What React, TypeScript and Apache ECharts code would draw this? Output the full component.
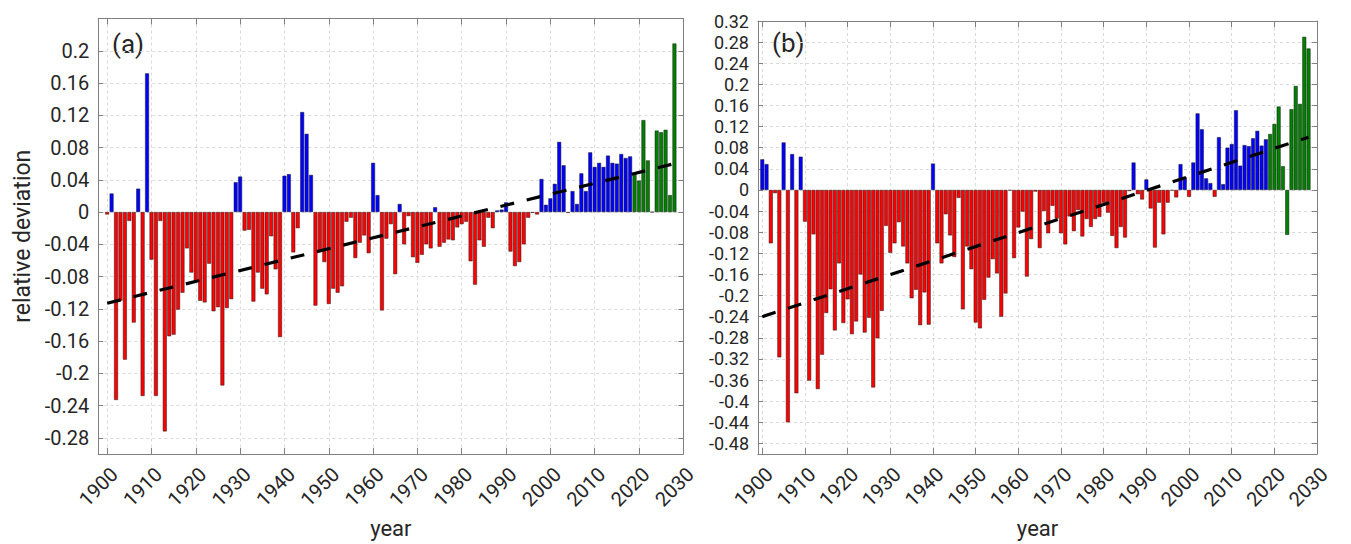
import React, { useEffect, useRef } from "react";
import * as echarts from "echarts";

// ---------- data ----------
const firstYear = 1900;
const projectionStart = 2019;

// panel (a): relative deviation, 1900..2028
const devA = [
  -0.003, 0.023, -0.233, -0.110, -0.183, -0.011, -0.137, 0.029, -0.228, 0.172,
  -0.059, -0.228, -0.011, -0.272, -0.154, -0.152, -0.121, -0.100, -0.045, -0.075,
  -0.086, -0.110, -0.112, -0.064, -0.123, -0.118, -0.215, -0.119, -0.108, 0.037,
  0.044, -0.023, -0.022, -0.111, -0.075, -0.095, -0.102, -0.030, -0.071, -0.155,
  0.045, 0.047, -0.050, -0.020, 0.124, 0.097, 0.046, -0.116, -0.048, -0.062,
  -0.114, -0.095, -0.100, -0.092, -0.012, -0.007, -0.057, -0.038, -0.029, -0.051,
  0.061, 0.021, -0.122, -0.033, -0.015, -0.077, 0.010, -0.040, -0.005, -0.056,
  -0.063, -0.053, -0.040, -0.045, 0.006, -0.043, -0.038, -0.034, -0.035, -0.019,
  -0.015, -0.012, -0.061, -0.090, -0.035, -0.043, -0.007, -0.020, 0.002, 0.003,
  0.012, -0.049, -0.067, -0.062, -0.040, -0.007, -0.001, -0.003, 0.041, 0.009,
  0.017, 0.035, 0.087, 0.058, -0.001, 0.026, 0.010, 0.048, 0.026, 0.074,
  0.056, 0.061, 0.056, 0.070, 0.061, 0.060, 0.072, 0.067, 0.069, 0.047,
  0.039, 0.114, 0.064, 0.000, 0.101, 0.099, 0.102, 0.021, 0.209,
];

// panel (b): relative deviation, 1900..2028
const devB = [
  0.058, 0.049, -0.101, -0.006, -0.317, 0.090, -0.440, 0.068, -0.385, 0.063,
  -0.060, -0.361, -0.084, -0.377, -0.312, -0.233, -0.188, -0.266, -0.139, -0.252,
  -0.207, -0.273, -0.249, -0.160, -0.270, -0.242, -0.374, -0.281, -0.229, -0.068,
  -0.119, -0.101, -0.061, -0.107, -0.139, -0.205, -0.189, -0.256, -0.194, -0.255,
  0.050, -0.101, -0.139, -0.046, -0.086, -0.127, -0.015, -0.226, -0.107, -0.150,
  -0.251, -0.262, -0.208, -0.166, -0.131, -0.158, -0.240, -0.196, -0.001, -0.129,
  -0.071, -0.041, -0.164, -0.093, -0.003, -0.110, -0.040, -0.082, -0.030, -0.054,
  -0.082, -0.103, -0.050, -0.078, -0.038, -0.088, -0.055, -0.070, -0.055, -0.051,
  -0.024, -0.043, -0.087, -0.110, -0.070, -0.090, -0.002, 0.052, -0.008, -0.018,
  0.020, -0.035, -0.109, -0.024, -0.084, -0.024, -0.001, -0.014, 0.049, 0.024,
  -0.013, 0.052, 0.145, 0.115, 0.022, 0.013, -0.013, 0.100, 0.011, 0.080,
  0.087, 0.151, 0.046, 0.085, 0.083, 0.098, 0.112, 0.084, 0.096, 0.106,
  0.125, 0.158, 0.045, -0.085, 0.153, 0.197, 0.163, 0.290, 0.268,
];

// linear trend end points [year, value]
const trendA = [[1900, -0.113], [2028, 0.060]];
const trendB = [[1900, -0.240], [2028, 0.100]];

// tick labels
const xTicks = [1900, 1910, 1920, 1930, 1940, 1950, 1960, 1970, 1980, 1990, 2000, 2010, 2020, 2030];
const yTicksA = [-0.28, -0.24, -0.2, -0.16, -0.12, -0.08, -0.04, 0, 0.04, 0.08, 0.12, 0.16, 0.2];
const yTicksB = [
  -0.48, -0.44, -0.4, -0.36, -0.32, -0.28, -0.24, -0.2, -0.16, -0.12, -0.08, -0.04,
  0, 0.04, 0.08, 0.12, 0.16, 0.2, 0.24, 0.28, 0.32,
];

// ---------- styling ----------
const RED = "#ff0000";
const BLUE = "#0000ff";
const GREEN = "#008000";
const AXIS = "#808080";
const GRIDC = "#dadada";
const TEXT = "#262626";
const FONT = "Roboto";

function barData(vals: number[]) {
  return vals.map((v, i) => {
    const yr = firstYear + i;
    const color = yr >= projectionStart ? GREEN : v < 0 ? RED : BLUE;
    return { value: [yr, v], itemStyle: { color } };
  });
}

function fmtY(v: number) {
  return String(Number(v.toFixed(2)));
}

function buildOption() {
  const grids = [
    { left: 98.3, top: 18.5, width: 585, height: 436 },
    { left: 758, top: 21, width: 581.5, height: 433 },
  ];
  const xr = [
    [1898, 2030],
    [1899, 2030],
  ];
  const yr = [
    [-0.3, 0.24],
    [-0.5, 0.32],
  ];
  const yt = [yTicksA, yTicksB];
  const yFont = [20, 18];
  const xAxis: any[] = [];
  const yAxis: any[] = [];
  const series: any[] = [];
  [0, 1].forEach((g) => {
    xAxis.push({
      type: "value",
      gridIndex: g,
      min: xr[g][0],
      max: xr[g][1],
      position: "bottom",
      name: "year",
      nameLocation: "middle",
      nameGap: 63,
      nameTextStyle: { fontFamily: FONT, fontSize: 22, color: TEXT },
      axisLine: { show: true, onZero: false, lineStyle: { color: AXIS, width: 1 } },
      axisTick: { show: true, inside: true, length: 6, customValues: xTicks, lineStyle: { color: AXIS } },
      axisLabel: {
        show: true,
        customValues: xTicks,
        rotate: 45,
        align: "center",
        padding: [0, 25, 0, 0],
        margin: 24,
        fontFamily: FONT,
        fontSize: 20,
        lineHeight: 18,
        color: TEXT,
        formatter: (v: number) => String(Math.round(v)),
      },
      splitLine: { show: true, lineStyle: { color: GRIDC, type: [3, 3], width: 1 } },
    });
    xAxis.push({
      type: "value",
      gridIndex: g,
      min: xr[g][0],
      max: xr[g][1],
      position: "top",
      axisLine: { show: true, onZero: false, lineStyle: { color: AXIS, width: 1 } },
      axisTick: { show: true, inside: true, length: 6, customValues: xTicks, lineStyle: { color: AXIS } },
      axisLabel: { show: false },
      splitLine: { show: false },
    });
    yAxis.push({
      type: "value",
      gridIndex: g,
      min: yr[g][0],
      max: yr[g][1],
      position: "left",
      name: g === 0 ? "relative deviation" : "",
      nameLocation: "middle",
      nameGap: 64,
      nameTextStyle: { fontFamily: FONT, fontSize: 23, color: TEXT },
      axisLine: { show: true, onZero: false, lineStyle: { color: AXIS, width: 1 } },
      axisTick: { show: true, inside: true, length: 5, customValues: yt[g], lineStyle: { color: AXIS } },
      axisLabel: {
        show: true,
        customValues: yt[g],
        margin: 9,
        fontFamily: FONT,
        fontSize: yFont[g],
        lineHeight: 17,
        color: TEXT,
        formatter: fmtY,
      },
      splitLine: { show: true, lineStyle: { color: GRIDC, type: [3, 3], width: 1 } },
    });
    yAxis.push({
      type: "value",
      gridIndex: g,
      min: yr[g][0],
      max: yr[g][1],
      position: "right",
      axisLine: { show: true, onZero: false, lineStyle: { color: AXIS, width: 1 } },
      axisTick: { show: true, inside: true, length: 5, customValues: yt[g], lineStyle: { color: AXIS } },
      axisLabel: { show: false },
      splitLine: { show: false },
    });
    series.push({
      type: "bar",
      xAxisIndex: g * 2,
      yAxisIndex: g * 2,
      barWidth: 3.9,
      data: barData(g === 0 ? devA : devB),
      itemStyle: { borderColor: "#1a1a1a", borderWidth: 0.5 },
      z: 2,
    });
    series.push({
      type: "line",
      xAxisIndex: g * 2,
      yAxisIndex: g * 2,
      data: g === 0 ? trendA : trendB,
      showSymbol: false,
      symbol: "none",
      lineStyle: { color: "#000000", width: 3.2, type: [14, 13] },
      z: 5,
    });
  });

  return {
    animation: false,
    backgroundColor: "#ffffff",
    textStyle: { fontFamily: FONT },
    grid: grids,
    xAxis,
    yAxis,
    series,
    graphic: [
      {
        type: "text",
        left: 112,
        top: 31,
        style: { text: "(a)", fontFamily: FONT, fontSize: 26, fill: TEXT },
      },
      {
        type: "text",
        left: 772,
        top: 30,
        style: { text: "(b)", fontFamily: FONT, fontSize: 26, fill: TEXT },
      },
    ],
  };
}

export default function App() {
  const ref = useRef<HTMLDivElement>(null);
  useEffect(() => {
    if (!ref.current) return;
    const chart = echarts.init(ref.current, undefined, { renderer: "svg" });
    chart.setOption(buildOption() as any);
    return () => chart.dispose();
  }, []);
  return (
    <div
      ref={ref}
      style={{ position: "absolute", left: 0, top: 0, width: 1351, height: 544, background: "#fff" }}
    />
  );
}
